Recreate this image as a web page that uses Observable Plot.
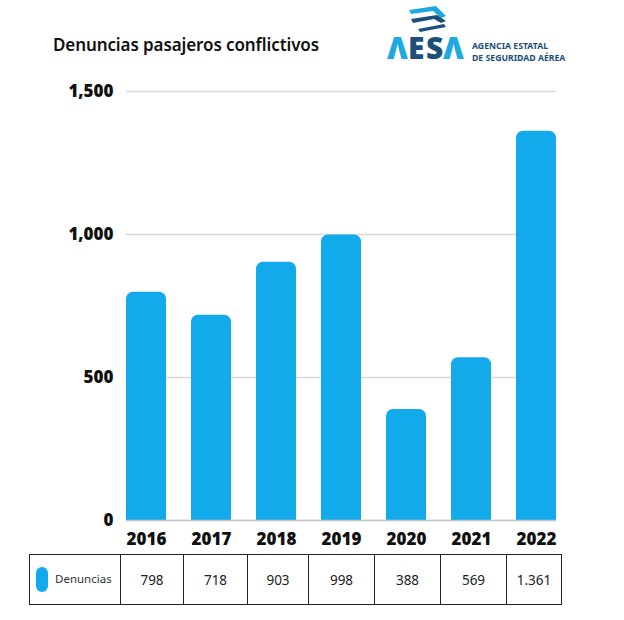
<!DOCTYPE html>
<html>
<head>
<meta charset="utf-8">
<script src="https://cdn.jsdelivr.net/npm/d3@7"></script>
<script src="https://cdn.jsdelivr.net/npm/@observablehq/plot@0.6"></script>
<style>
  html, body { margin: 0; padding: 0; background: #fff; }
  #wrap { position: relative; width: 624px; height: 620px; overflow: hidden; font-family: "Noto Sans", sans-serif; }
  #title { position: absolute; left: 53px; top: 33px; font-family: "Noto Sans", sans-serif; font-weight: 600; font-size: 17px; color: #111; white-space: nowrap; letter-spacing: -0.1px; }
  #logo { position: absolute; left: 0; top: 0; }
  #chart { position: absolute; left: 0; top: 0; }
  #tbl { position: absolute; left: 29px; top: 554px; width: 532px; border-collapse: collapse; table-layout: fixed; }
  #tbl td { border: 1.5px solid #222; height: 50px; padding: 0; text-align: center; font-family: "Noto Sans", sans-serif; font-size: 13.5px; color: #222; box-sizing: border-box; }
  #tbl td.lab { text-align: left; font-size: 11.5px; color: #333; white-space: nowrap; }
  .sw { display: inline-block; width: 12px; height: 25px; border-radius: 6px; background: #13aaeb; vertical-align: middle; margin-left: 6px; margin-right: 7px; }
</style>
</head>
<body>
<div id="wrap">
  <div id="chart"></div>
  <div id="title"></div>
  <svg id="logo" width="624" height="80">
    <g stroke="none">
      <polygon points="409,10 436,6 446,16 441,18 433,11 411,14" fill="#1fa9e2"/>
      <polygon points="411,19 437,15 446,21 441,23 434,19 413,23" fill="#1c4f7c"/>
      <polygon points="418,29 444,24 446,27 420,32" fill="#1c4f7c"/>
    </g>
    <g font-family="'Open Sans', 'Noto Sans', sans-serif" font-weight="800" font-size="30">
      <text x="387" y="59" fill="#1fa9e2">Λ</text>
      <text x="408" y="59" fill="#1c4f7c">E</text>
      <text x="426" y="59" fill="#1c4f7c">S</text>
      <text x="443" y="59" fill="#1fa9e2">Λ</text>
    </g>
    <g font-family="'Noto Sans', sans-serif" font-weight="700" font-size="8.7" fill="#1c4f7c">
      <text x="472" y="49">AGENCIA ESTATAL</text>
      <text x="472" y="61">DE SEGURIDAD AÉREA</text>
    </g>
  </svg>
  <table id="tbl"><tr id="row"></tr></table>
</div>
<script>
// ---- data ----
const titleText = "Denuncias pasajeros conflictivos";
const seriesName = "Denuncias";
const years = ["2016", "2017", "2018", "2019", "2020", "2021", "2022"];
const denuncias = [798, 718, 903, 998, 388, 569, 1361];
const yTicks = [0, 500, 1000, 1500];

// ---- style / layout (not data) ----
const barColor = "#13aaeb";
const colWidths = [91, 63, 64, 61, 66, 66, 66, 55];

document.getElementById("title").textContent = titleText;

const data = years.map((y, i) => ({year: y, value: denuncias[i]}));

const chart = Plot.plot({
  width: 624,
  height: 550,
  marginTop: 91,
  marginBottom: 30,
  marginLeft: 126,
  marginRight: 68,
  style: {fontFamily: "'Open Sans', 'Noto Sans', sans-serif", background: "transparent", overflow: "visible"},
  x: {domain: years, paddingInner: 0.385, paddingOuter: 0, label: null},
  y: {domain: [0, 1500], label: null},
  marks: [
    Plot.gridY(yTicks, {stroke: "#d9d9d9", strokeOpacity: 1, strokeWidth: 1.6}),
    Plot.barY(data, {x: "year", y: "value", fill: barColor, rx: 7}),
    Plot.barY(data, {x: "year", y1: 0, y2: d => Math.min(d.value, 40), fill: barColor}),
    Plot.ruleY([0], {stroke: "#c8c8c8", strokeWidth: 1.5}),
    Plot.axisY(yTicks, {tickSize: 0, tickPadding: 13, tickFormat: d => d3.format(",")(d), fontSize: 17, fontWeight: 800, fill: "#111", label: null}),
    Plot.axisX({tickSize: 0, tickPadding: 12, fontSize: 17, fontWeight: 800, fill: "#111", label: null})
  ]
});
document.getElementById("chart").appendChild(chart);

// ---- table ----
const esFmt = d3.formatLocale({decimal: ",", thousands: ".", grouping: [3], currency: ["", "€"]}).format(",d");
const row = document.getElementById("row");
const first = document.createElement("td");
first.className = "lab";
first.style.width = colWidths[0] + "px";
first.innerHTML = '<span class="sw"></span>';
first.appendChild(document.createTextNode(seriesName));
row.appendChild(first);
denuncias.forEach((v, i) => {
  const td = document.createElement("td");
  td.style.width = colWidths[i + 1] + "px";
  td.textContent = esFmt(v);
  row.appendChild(td);
});
</script>
</body>
</html>
